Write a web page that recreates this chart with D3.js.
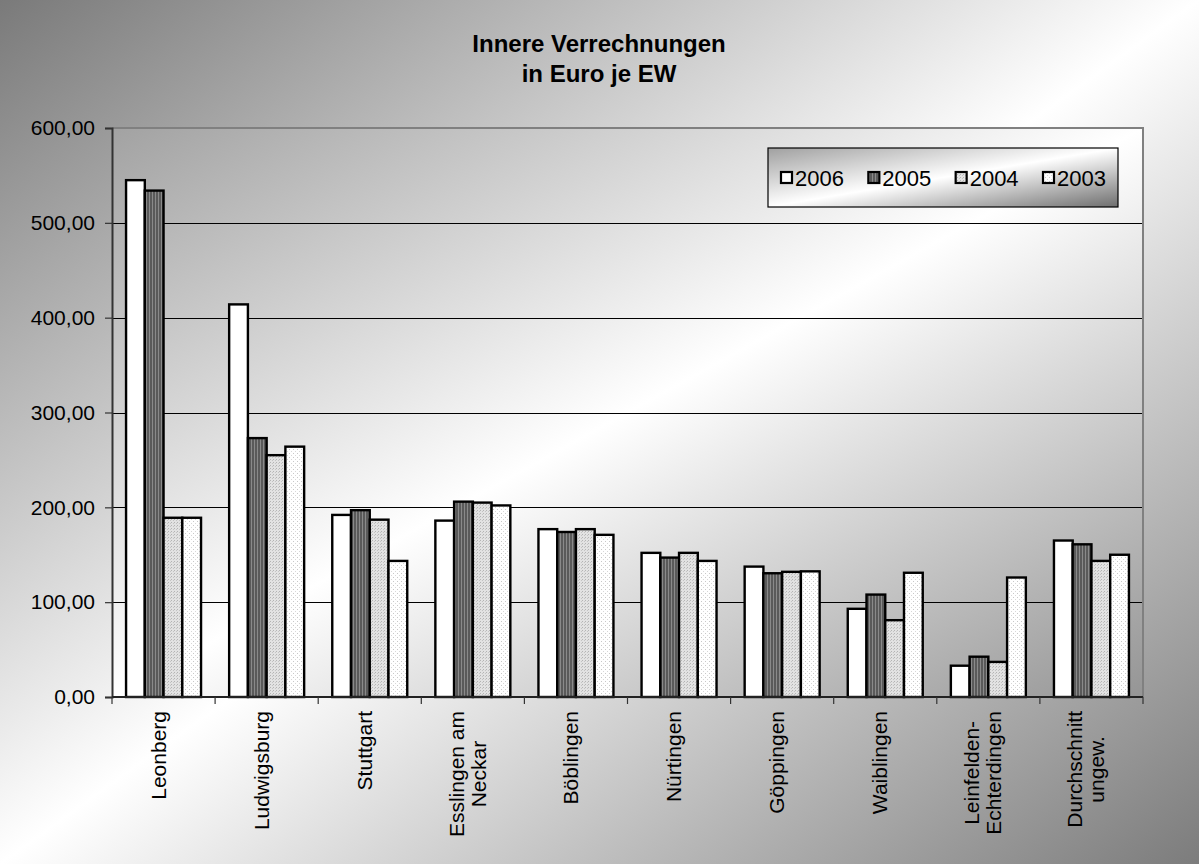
<!DOCTYPE html>
<html>
<head>
<meta charset="utf-8">
<script src="https://cdn.jsdelivr.net/npm/d3@7"></script>
<style>
  html, body { margin: 0; padding: 0; background: #fff; }
  svg { display: block; }
  text { font-family: Arial, "Liberation Sans", sans-serif; fill: #000; }
</style>
</head>
<body>
<svg id="chart" width="1199" height="864"></svg>
<script>
// Categories (municipalities), one label line per entry
const categories = ["Leonberg", "Ludwigsburg", "Stuttgart", "Esslingen am Neckar", "Böblingen",
  "Nürtingen", "Göppingen", "Waiblingen", "Leinfelden-Echterdingen", "Durchschnitt ungew."];
const categoryLines = [["Leonberg"], ["Ludwigsburg"], ["Stuttgart"], ["Esslingen am", "Neckar"],
  ["Böblingen"], ["Nürtingen"], ["Göppingen"], ["Waiblingen"], ["Leinfelden-", "Echterdingen"],
  ["Durchschnitt", "ungew."]];

const years = ["2006", "2005", "2004", "2003"];

// Euro per inhabitant
const values2006 = [545, 414, 192, 186, 177, 152, 137.5, 93, 33, 165];
const values2005 = [534, 273, 197, 206, 174, 147, 130.5, 108, 42.5, 161];
const values2004 = [189, 255, 187, 205, 177, 152, 132, 81, 37, 143.5];
const values2003 = [189, 264, 143.5, 202, 171, 143.5, 132.5, 131, 126, 150];
const seriesValues = [values2006, values2005, values2004, values2003];

const yTicks = [0, 100, 200, 300, 400, 500, 600];

const titleLines = ["Innere Verrechnungen", "in Euro je EW"];

const W = 1199, H = 864;
const plot = { left: 112, right: 1143, top: 128, bottom: 697 };

const svg = d3.select("#chart");
const defs = svg.append("defs");

// Diagonal grey-white-grey gradients
function diagGradient(id, c0, c1, c2) {
  const g = defs.append("linearGradient").attr("id", id)
    .attr("x1", 0).attr("y1", 0).attr("x2", 1).attr("y2", 1);
  g.append("stop").attr("offset", 0).attr("stop-color", c0);
  g.append("stop").attr("offset", 0.5).attr("stop-color", c1);
  g.append("stop").attr("offset", 1).attr("stop-color", c2);
}
diagGradient("bgGrad", "#7a7a7a", "#ffffff", "#7c7c7c");
diagGradient("plotGrad", "#a2a2a2", "#ffffff", "#959595");
diagGradient("legendGrad", "#a0a0a0", "#ffffff", "#6e6e6e");

// Fill patterns per year
const p2005 = defs.append("pattern").attr("id", "pat2005").attr("patternUnits", "userSpaceOnUse")
  .attr("width", 3).attr("height", 3);
p2005.append("rect").attr("width", 3).attr("height", 3).attr("fill", "#5a5a5a");
p2005.append("rect").attr("x", 2).attr("width", 1).attr("height", 3).attr("fill", "#8a8a8a");

const p2004 = defs.append("pattern").attr("id", "pat2004").attr("patternUnits", "userSpaceOnUse")
  .attr("width", 3).attr("height", 3);
p2004.append("rect").attr("width", 3).attr("height", 3).attr("fill", "#e2e2e2");
p2004.append("rect").attr("x", 0).attr("y", 0).attr("width", 1).attr("height", 1).attr("fill", "#b4b4b4");
p2004.append("rect").attr("x", 2).attr("y", 1).attr("width", 1).attr("height", 1).attr("fill", "#c4c4c4");

const p2003 = defs.append("pattern").attr("id", "pat2003").attr("patternUnits", "userSpaceOnUse")
  .attr("width", 4).attr("height", 4);
p2003.append("rect").attr("width", 4).attr("height", 4).attr("fill", "#ffffff");
p2003.append("rect").attr("x", 1).attr("y", 1).attr("width", 1).attr("height", 1).attr("fill", "#c8c8c8");
p2003.append("rect").attr("x", 3).attr("y", 3).attr("width", 1).attr("height", 1).attr("fill", "#d8d8d8");

const fills = ["#ffffff", "url(#pat2005)", "url(#pat2004)", "url(#pat2003)"];

// Backgrounds
svg.append("rect").attr("width", W).attr("height", H).attr("fill", "url(#bgGrad)");
svg.append("rect").attr("x", plot.left).attr("y", plot.top)
  .attr("width", plot.right - plot.left).attr("height", plot.bottom - plot.top)
  .attr("fill", "url(#plotGrad)");

// Scales
const x = d3.scaleBand().domain(categories).range([plot.left, plot.right]).padding(0);
const bw = x.bandwidth();
const gap = bw * 0.75 / 5.5;
const xs = d3.scaleBand().domain(years).range([gap, bw - gap]).padding(0);
const y = d3.scaleLinear().domain([0, 600]).range([plot.bottom, plot.top]);

// Gridlines
svg.append("g").selectAll("line").data(yTicks.filter(t => t > 0 && t < 600)).join("line")
  .attr("x1", plot.left).attr("x2", plot.right)
  .attr("y1", d => Math.round(y(d)) + 0.5).attr("y2", d => Math.round(y(d)) + 0.5)
  .attr("stroke", "#000").attr("stroke-width", 1);

// Plot border (top and right)
svg.append("path")
  .attr("d", `M${plot.left},${plot.top}H${plot.right}V${plot.bottom}`)
  .attr("fill", "none").attr("stroke", "#808080").attr("stroke-width", 2);

// Bars
const barData = [];
categories.forEach((c, i) => {
  years.forEach((yr, j) => barData.push({ cat: c, year: yr, s: j, v: seriesValues[j][i] }));
});
svg.append("g").selectAll("rect").data(barData).join("rect")
  .attr("x", d => x(d.cat) + xs(d.year))
  .attr("y", d => y(d.v))
  .attr("width", xs.bandwidth())
  .attr("height", d => y(0) - y(d.v))
  .attr("fill", d => fills[d.s])
  .attr("stroke", "#000").attr("stroke-width", 2.4)
  .attr("stroke-linejoin", "miter");

// Y axis
const fmt = v => d3.format(".2f")(v).replace(".", ",");
const yAxis = d3.axisLeft(y).tickValues(yTicks).tickFormat(fmt).tickSize(7).tickPadding(10);
const yg = svg.append("g").attr("transform", `translate(${plot.left},0)`).call(yAxis);
yg.select(".domain").attr("stroke", "#333").attr("stroke-width", 2);
yg.selectAll(".tick line").attr("stroke", "#333").attr("stroke-width", 1.2);
yg.selectAll(".tick text").style("font-size", "21px")
  .style("font-family", "Arial, 'Liberation Sans', sans-serif").attr("fill", "#000");

// X axis with ticks at category boundaries
const xg = svg.append("g");
xg.append("line").attr("x1", plot.left).attr("x2", plot.right)
  .attr("y1", plot.bottom).attr("y2", plot.bottom)
  .attr("stroke", "#222").attr("stroke-width", 2);
const boundaries = categories.map(c => x(c)).concat([plot.right]);
xg.selectAll("line.tk").data(boundaries).join("line").attr("class", "tk")
  .attr("x1", d => d).attr("x2", d => d)
  .attr("y1", plot.bottom).attr("y2", plot.bottom + 7)
  .attr("stroke", "#333").attr("stroke-width", 1.2);

// Rotated category labels; multi-line blocks centred line by line
const labelTop = plot.bottom + 14;
const lineGap = 22;
categoryLines.forEach((lines, i) => {
  const cx = x(categories[i]) + bw / 2;
  const g = svg.append("g");
  const texts = lines.map(l => g.append("text").text(l).style("font-size", "21px")
    .attr("text-anchor", "middle"));
  const maxLen = d3.max(texts, t => t.node().getComputedTextLength());
  const centerY = labelTop + maxLen / 2;
  const n = lines.length;
  texts.forEach((t, k) => {
    const lx = cx + (k - (n - 1) / 2) * lineGap + 2;
    t.attr("transform", `translate(${lx},${centerY}) rotate(-90)`);
  });
});

// Legend
const legend = svg.append("g");
legend.append("rect").attr("x", 768).attr("y", 148).attr("width", 350).attr("height", 59)
  .attr("fill", "url(#legendGrad)").attr("stroke", "#000").attr("stroke-width", 1.2);
const legendX = d3.scalePoint().domain(years).range([780, 1042]);
years.forEach((yr, j) => {
  const lx = legendX(yr);
  legend.append("rect").attr("x", lx + 1).attr("y", 172).attr("width", 11).attr("height", 11)
    .attr("fill", fills[j]).attr("stroke", "#000").attr("stroke-width", 2.2);
  legend.append("text").attr("x", lx + 15).attr("y", 185.5).text(yr).style("font-size", "22px");
});

// Title
svg.append("g").selectAll("text").data(titleLines).join("text")
  .attr("x", 599).attr("y", (d, i) => 52 + i * 30)
  .attr("text-anchor", "middle")
  .style("font-size", "24px").style("font-weight", "bold")
  .text(d => d);
</script>
</body>
</html>
